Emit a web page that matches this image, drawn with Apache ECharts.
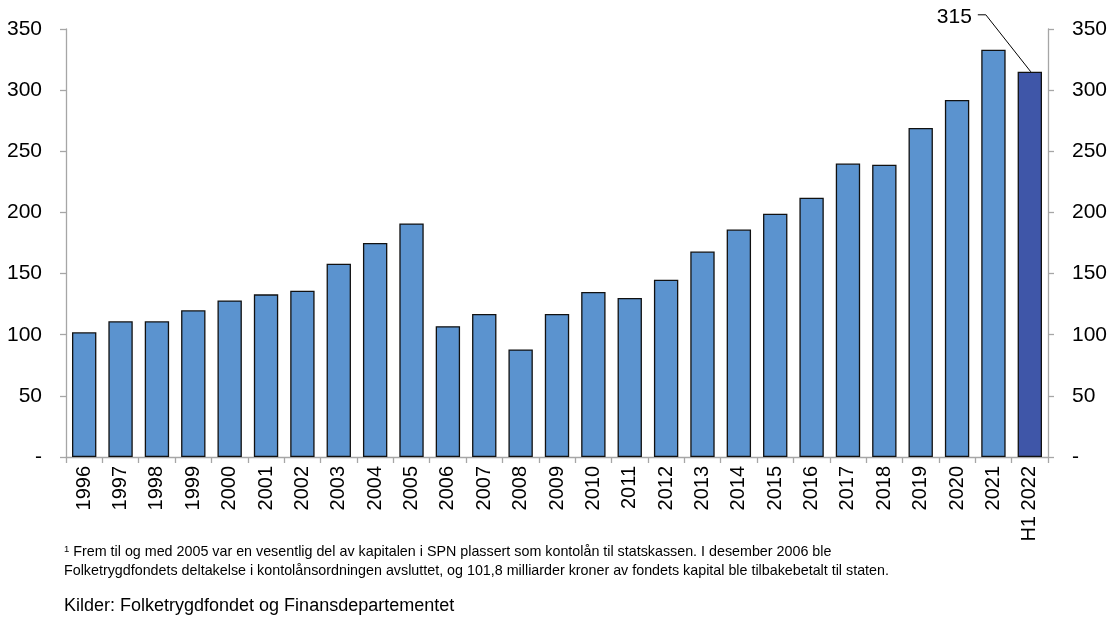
<!DOCTYPE html>
<html><head><meta charset="utf-8">
<script src="https://cdn.jsdelivr.net/npm/echarts@6/dist/echarts.min.js"></script>
<style>html,body{margin:0;padding:0;background:#fff}#c{width:1120px;height:629px}</style>
</head><body><div id="c"></div>
<script>
const categories = ['1996','1997','1998','1999','2000','2001','2002','2003','2004','2005','2006','2007','2008','2009','2010','2011','2012','2013','2014','2015','2016','2017','2018','2019','2020','2021','H1 2022'];
const values = [102,111,111,120,128,133,136,158,175,191,107,117,88,117,135,130,145,168,186,199,212,240,239,269,292,333,315];
const yMin = 0, yMax = 350, yStep = 50;
const annotatedIndex = 26;
const footnoteLines = [
  'Frem til og med 2005 var en vesentlig del av kapitalen i SPN plassert som kontolån til statskassen. I desember 2006 ble',
  'Folketrygdfondets deltakelse i kontolånsordningen avsluttet, og 101,8 milliarder kroner av fondets kapital ble tilbakebetalt til staten.'
];
const sourceText = 'Kilder: Folketrygdfondet og Finansdepartementet';

const FONT = 'Liberation Sans, Arial, sans-serif';
const light = '#5b93cf', dark = '#3f56a8';
const axisGray = '#a6a6a6';
const tickFmt = v => v === 0 ? '-' : String(v);

const yAxisBase = {
  type: 'value', min: yMin, max: yMax, interval: yStep,
  splitLine: { show: false },
  axisLine: { show: true, lineStyle: { color: axisGray, width: 1.3 } },
  axisTick: { show: true, length: 6, lineStyle: { color: axisGray, width: 1.3 } },
  axisLabel: { formatter: tickFmt, color: '#000', fontFamily: FONT, fontSize: 21, margin: 24 }
};

const chart = echarts.init(document.getElementById('c'));
chart.setOption({
  animation: false,
  grid: { left: 66, right: 72, top: 29, bottom: 172, containLabel: false },
  xAxis: {
    type: 'category', data: categories, boundaryGap: true,
    axisLine: { lineStyle: { color: axisGray, width: 1.3 } },
    axisTick: { show: true, length: 6, lineStyle: { color: axisGray, width: 1.3 } },
    axisLabel: { rotate: 90, interval: 0, color: '#000', fontFamily: FONT, fontSize: 20, margin: 9 }
  },
  yAxis: [
    Object.assign({}, yAxisBase, { position: 'left' }),
    Object.assign({}, yAxisBase, { position: 'right' })
  ],
  series: [{
    type: 'bar', yAxisIndex: 0, barCategoryGap: '33%',
    data: values.map((v, i) => ({ value: v, itemStyle: { color: i === annotatedIndex ? dark : light } })),
    itemStyle: { borderColor: '#111', borderWidth: 1.3 }
  }]
});

const p = chart.convertToPixel({ xAxisIndex: 0, yAxisIndex: 0 }, [categories[annotatedIndex], values[annotatedIndex]]);
chart.setOption({
  graphic: [
    {
      type: 'text', x: 64, y: 552,
      style: { text: '{s|1} ' + footnoteLines[0], fontSize: 14.3, fontFamily: FONT, fill: '#000', verticalAlign: 'middle',
        rich: { s: { fontSize: 9.5, fontFamily: FONT, fill: '#000', padding: [0, 0, 5, 0] } } }
    },
    { type: 'text', x: 64, y: 571, style: { text: footnoteLines[1], fontSize: 14.3, fontFamily: FONT, fill: '#000', verticalAlign: 'middle' } },
    { type: 'text', x: 64, y: 606, style: { text: sourceText, fontSize: 18, fontFamily: FONT, fill: '#000', verticalAlign: 'middle' } },
    { type: 'polyline', silent: true, shape: { points: [[p[0] + 1, p[1]], [p[0] - 44, p[1] - 57], [p[0] - 52, p[1] - 57]] },
      style: { stroke: '#000', lineWidth: 1, fill: null } },
    { type: 'text', x: p[0] - 58, y: p[1] - 55,
      style: { text: String(values[annotatedIndex]), fontSize: 21, fontFamily: FONT, fill: '#000', align: 'right', verticalAlign: 'middle' } }
  ]
});
</script>
</body></html>
